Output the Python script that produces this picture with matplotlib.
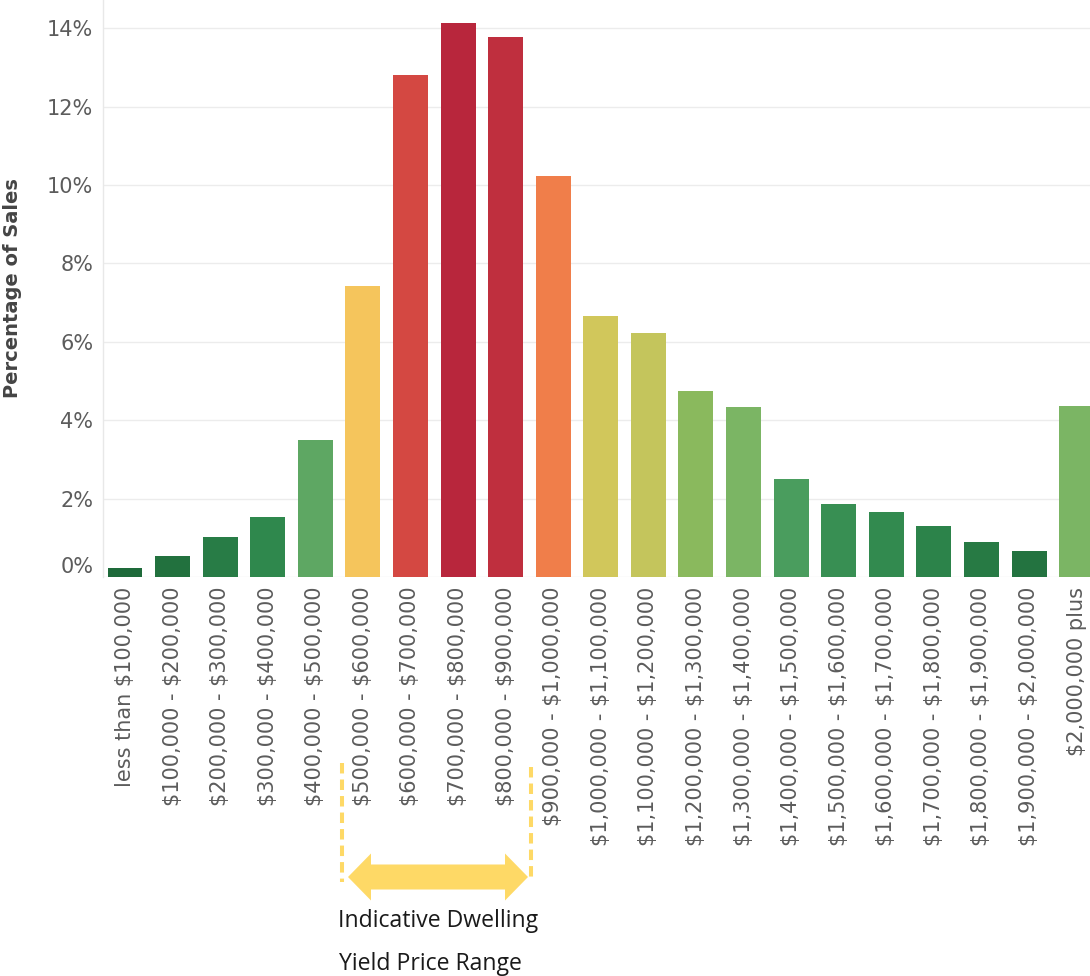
import matplotlib
matplotlib.use('Agg')
import matplotlib.pyplot as plt
from matplotlib.colors import LinearSegmentedColormap, Normalize
from matplotlib.lines import Line2D
from matplotlib.patches import FancyArrow

# Price bands and share of sales (%)
bands = [
    "less than $100,000",
    "$100,000 - $200,000",
    "$200,000 - $300,000",
    "$300,000 - $400,000",
    "$400,000 - $500,000",
    "$500,000 - $600,000",
    "$600,000 - $700,000",
    "$700,000 - $800,000",
    "$800,000 - $900,000",
    "$900,000 - $1,000,000",
    "$1,000,000 - $1,100,000",
    "$1,100,000 - $1,200,000",
    "$1,200,000 - $1,300,000",
    "$1,300,000 - $1,400,000",
    "$1,400,000 - $1,500,000",
    "$1,500,000 - $1,600,000",
    "$1,600,000 - $1,700,000",
    "$1,700,000 - $1,800,000",
    "$1,800,000 - $1,900,000",
    "$1,900,000 - $2,000,000",
    "$2,000,000 plus",
]
share = [0.23, 0.54, 1.02, 1.53, 3.49, 7.42, 12.80, 14.12, 13.78, 10.23,
         6.66, 6.22, 4.74, 4.34, 2.50, 1.86, 1.66, 1.30, 0.89, 0.66, 4.36]

yticks = [0, 2, 4, 6, 8, 10, 12, 14]

# green -> yellow -> red scale on the share value
stops = [
    (0.0, "#1b6537"),
    (1.5, "#2f884d"),
    (2.5, "#4a9d5e"),
    (3.5, "#5fa863"),
    (4.4, "#7db664"),
    (4.8, "#8db95c"),
    (6.2, "#c3c55c"),
    (6.7, "#d2c75b"),
    (7.4, "#f5c55c"),
    (10.2, "#f07f4a"),
    (12.8, "#d44842"),
    (14.2, "#b7253c"),
]
vmax = stops[-1][0]
cmap = LinearSegmentedColormap.from_list("rdylgn_sales", [(v / vmax, c) for v, c in stops])
norm = Normalize(0, vmax)

W, H = 1090, 976
fig = plt.figure(figsize=(W / 100, H / 100), dpi=100)
base = 577  # pixel row of the zero line
ax = fig.add_axes([103 / W, (H - base) / H, (W - 103) / W, base / H])

x = list(range(len(bands)))
ax.bar(x, share, width=0.735, color=[cmap(norm(v)) for v in share], zorder=2)

step = 47.58
ax.set_xlim((103 - 125) / step, (W - 125) / step)
ax.set_ylim(0, base / 39.2)

# dollar signs would otherwise be read as mathtext
ax.set_xticks(x)
ax.set_xticklabels([b.replace("$", r"\$") for b in bands], rotation=90,
                   fontsize=15, color="#5c5c5c", va="top", ha="center")
ax.set_yticks(yticks)
ylabels = ax.set_yticklabels([f"{t}%" for t in yticks], fontsize=15, color="#5c5c5c")
ylabels[0].set_va("bottom")
ax.tick_params(axis="both", length=0)
ax.tick_params(axis="x", pad=7)
ax.tick_params(axis="y", pad=7)

ax.set_ylabel("Percentage of Sales", fontsize=14, fontweight="bold", color="#444444")
ax.yaxis.set_label_coords((22 - 103) / (W - 103), 0.5)

ax.grid(axis="y", color="#ececec", linewidth=1, zorder=0)
for side in ["top", "right", "bottom"]:
    ax.spines[side].set_visible(False)
ax.spines["left"].set_color("#e8e8e8")
ax.spines["left"].set_linewidth(1)

# price-range marker below the axis (pixel positions, in inches)
def px(xp, yp):
    return xp / 100, (H - yp) / 100

yellow = "#fed966"
tr = fig.dpi_scale_trans
for xs, y0 in [(342, 763), (531, 767)]:
    (lx0, ly0), (lx1, ly1) = px(xs, y0), px(xs, 882)
    fig.add_artist(Line2D([lx0, lx1], [ly0, ly1], transform=tr, color=yellow,
                          linewidth=2.9, linestyle=(0, (2.6, 1.5))))

cx, cy = px(438, 877)
for tip in [348, 528]:
    tx, _ = px(tip, 877)
    fig.add_artist(FancyArrow(cx, cy, tx - cx, 0, width=0.25, head_width=0.47,
                              head_length=0.23, length_includes_head=True,
                              color=yellow, linewidth=0, transform=tr))

fig.text(338 / W, 1 - 921 / H, "Indicative Dwelling", fontsize=16.6,
         family="Open Sans", color="#1a1a1a", ha="left", va="center")
fig.text(339 / W, 1 - 964 / H, "Yield Price Range", fontsize=16.6,
         family="Open Sans", color="#1a1a1a", ha="left", va="center")

fig.savefig("out.png", dpi=100)
